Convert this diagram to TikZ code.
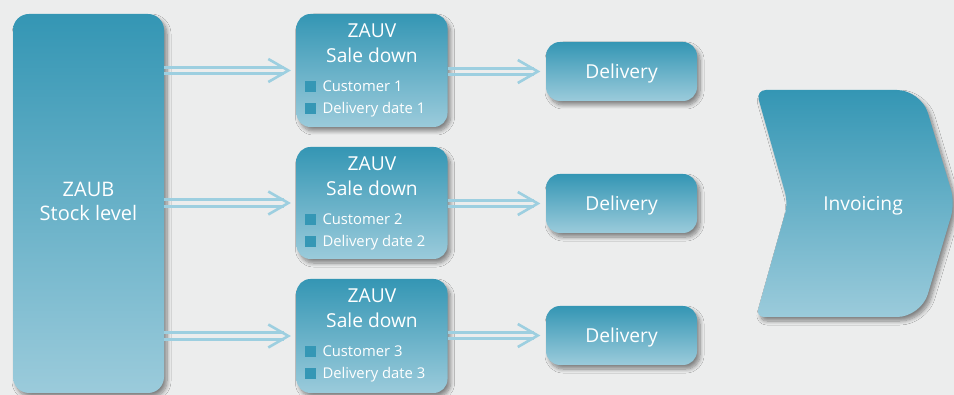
\documentclass[tikz,border=0pt]{standalone}
\usepackage{fontspec}
\setmainfont{Open Sans}
\usetikzlibrary{shadows.blur,calc}
\definecolor{bg}{HTML}{ECEDED}
\definecolor{topc}{HTML}{3496B4}
\definecolor{botc}{HTML}{9BCBDB}
\definecolor{arrc}{HTML}{9DCFE0}
\definecolor{bul}{HTML}{3597B5}
\tikzset{
  shad/.style={blur shadow={shadow xshift=3pt, shadow yshift=-4pt, shadow blur radius=4pt, shadow blur steps=8, shadow opacity=45}},
  gbox/.style={rectangle, rounded corners=14pt, top color=topc, bottom color=botc, draw=none, inner sep=0pt, shad},
  bigbox/.style={gbox, minimum width=151pt, minimum height=379pt, rounded corners=16pt},
  salebox/.style={gbox, minimum width=151pt},
  delbox/.style={gbox, minimum width=151pt, minimum height=59pt},
  ttl/.style={text=white, inner sep=0pt, font=\fontsize{19.2}{24}\selectfont, anchor=base},
  bigttl/.style={ttl, font=\fontsize{20}{24}\selectfont},
  sml/.style={text=white, inner sep=0pt, font=\fontsize{14.8}{16}\selectfont, anchor=base west},
  sq/.style={fill=bul, minimum size=11pt, inner sep=0pt, anchor=south west},
  arrline/.style={draw=arrc, line width=3.3pt},
  wing/.style={draw=arrc, line width=2.6pt, line join=miter, miter limit=10},
}
\begin{document}
\begin{tikzpicture}[x=1pt,y=-1pt]
\useasboundingbox (0,0) rectangle (954,395);
\fill[bg] (0,0) rectangle (954,395);

% left box
\node[bigbox] (zaub) at (88.5,203.5) {};
\node[bigttl] (zaubA) at ($(zaub.center)+(0,-6.5)$) {ZAUB};
\node[bigttl] (zaubB) at ($(zaub.center)+(0,17.5)$) {Stock level};

% sale boxes
\node[salebox, minimum height=113pt] (s1) at (372,70.5) {};
\node[salebox, minimum height=112pt] (s2) at (372,203) {};
\node[salebox, minimum height=114pt] (s3) at (372,336) {};
\foreach \s/\n in {s1/1,s2/2,s3/3}{
  \node[ttl] (\s a) at ($(\s.north)+(0,24)$) {ZAUV};
  \node[ttl] (\s b) at ($(\s.north)+(0,49)$) {Sale down};
  \node[sq] (\s q1) at ($(\s.north west)+(8,78)$) {};
  \node[sml] (\s c) at ($(\s.north west)+(26,78)$) {Customer \n};
  \node[sq] (\s q2) at ($(\s.north west)+(8,100)$) {};
  \node[sml] (\s d) at ($(\s.north west)+(26,100)$) {Delivery date \n};
}

% delivery boxes
\node[delbox] (d1) at (621.5,71.5) {};
\node[delbox] (d2) at (621.5,203.5) {};
\node[delbox] (d3) at (621.5,335.5) {};
\foreach \d in {d1,d2,d3}{
  \node[ttl] (\d t) at ($(\d.center)+(0,7)$) {Delivery};
}

% invoicing chevron
\path[top color=topc, bottom color=botc, shad]
  (788,203) [rounded corners=10pt] -- (756,90) [rounded corners=24pt] -- (921,90)
  [rounded corners=14pt] -- (955,203) [rounded corners=24pt] -- (921,317)
  [rounded corners=8pt] -- (756,317) [rounded corners=10pt] -- cycle;
\node[ttl] (inv) at (863,211) {Invoicing};

% arrows
\foreach \a/\b in {s1/1,s2/2,s3/3}{
  \coordinate (t\b) at ($(\a.west)+(-8,0)$);
  \draw[arrline] ($(zaub.east |- t\b)+(0,-3.3)$) -- ($(t\b)+(-4,-3.3)$);
  \draw[arrline] ($(zaub.east |- t\b)+(0,3.3)$) -- ($(t\b)+(-4,3.3)$);
  \draw[wing] ($(t\b)+(-20,-11.5)$) -- (t\b) -- ($(t\b)+(-20,11.5)$);
}
\foreach \a/\d/\b in {s1/d1/1,s2/d2/2,s3/d3/3}{
  \coordinate (u\b) at ($(\d.west)+(-8,0)$);
  \draw[arrline] ($(\a.east |- u\b)+(0,-3.3)$) -- ($(u\b)+(-4,-3.3)$);
  \draw[arrline] ($(\a.east |- u\b)+(0,3.3)$) -- ($(u\b)+(-4,3.3)$);
  \draw[wing] ($(u\b)+(-20,-11.5)$) -- (u\b) -- ($(u\b)+(-20,11.5)$);
}
\end{tikzpicture}
\end{document}
